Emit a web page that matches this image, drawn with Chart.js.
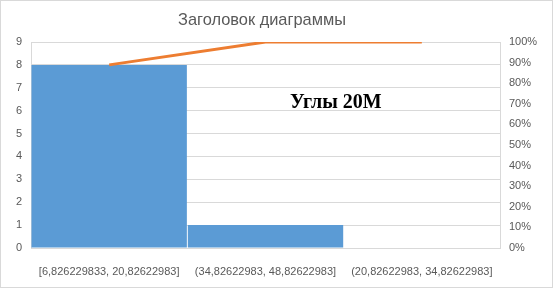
<!DOCTYPE html>
<html>
<head>
<meta charset="utf-8">
<script src="https://cdn.jsdelivr.net/npm/chart.js@4/dist/chart.umd.min.js"></script>
<style>
html,body{margin:0;padding:0;background:#fff;}
#wrap{width:553px;height:288px;box-sizing:border-box;border:1px solid #d9d9d9;position:relative;}
canvas{display:block;}
</style>
</head>
<body>
<div id="wrap"><canvas id="c" width="551" height="286"></canvas></div>
<script>
// data
const categories=['[6,826229833, 20,82622983]','(34,82622983, 48,82622983]','(20,82622983, 34,82622983]'];
const counts=[8,1,0];
const cumulative=[0.889,1,1];
const titleText='Заголовок диаграммы';
const noteText='Углы 20М';

const grey='#595959', grid='#d9d9d9';
const tickFont={family:'Liberation Sans, Arial, sans-serif',size:11};

// title + free text box, drawn like Excel places them
const textPlugin={
  id:'texts',
  afterDraw(chart){
    const a=chart.chartArea, ctx=chart.ctx;
    ctx.save();
    ctx.font='16.4px "Liberation Sans", Arial, sans-serif';
    ctx.fillStyle=grey;
    ctx.textAlign='center';ctx.textBaseline='middle';
    ctx.fillText(titleText,261,19);
    ctx.font='bold 20px "Liberation Serif", "Times New Roman", serif';
    ctx.fillStyle='#000';
    ctx.textAlign='left';ctx.textBaseline='alphabetic';
    ctx.fillText(noteText,a.left+(a.right-a.left)*0.552,a.top+66);
    ctx.restore();
  }
};

new Chart(document.getElementById('c'),{
  data:{
    labels:categories,
    datasets:[
      {type:'line',data:cumulative,yAxisID:'y1',borderColor:'#ED7D31',borderWidth:3,pointRadius:0,tension:0,order:0},
      {type:'bar',data:counts,yAxisID:'y',backgroundColor:'#5B9BD5',barPercentage:0.994,categoryPercentage:1,order:1}
    ]
  },
  options:{
    responsive:false,animation:false,
    layout:{padding:{left:0,right:0,top:41,bottom:0}},
    plugins:{legend:{display:false},tooltip:{enabled:false},title:{display:false}},
    scales:{
      x:{
        grid:{display:false},border:{display:true,color:grid},
        ticks:{color:grey,font:tickFont,maxRotation:0,padding:9},
        afterFit(s){s.height=39;}
      },
      y:{
        position:'left',min:0,max:9,
        ticks:{stepSize:1,color:grey,font:tickFont,padding:9},
        grid:{color:grid,drawTicks:false},border:{display:true,color:grid},
        afterFit(s){s.width=30;}
      },
      y1:{
        position:'right',min:0,max:1,
        ticks:{stepSize:0.1,color:grey,font:tickFont,padding:9,callback:v=>Math.round(v*100)+'%'},
        grid:{display:false,drawTicks:false},border:{display:true,color:grid},
        afterFit(s){s.width=52;}
      }
    }
  },
  plugins:[textPlugin]
});
</script>
</body>
</html>
